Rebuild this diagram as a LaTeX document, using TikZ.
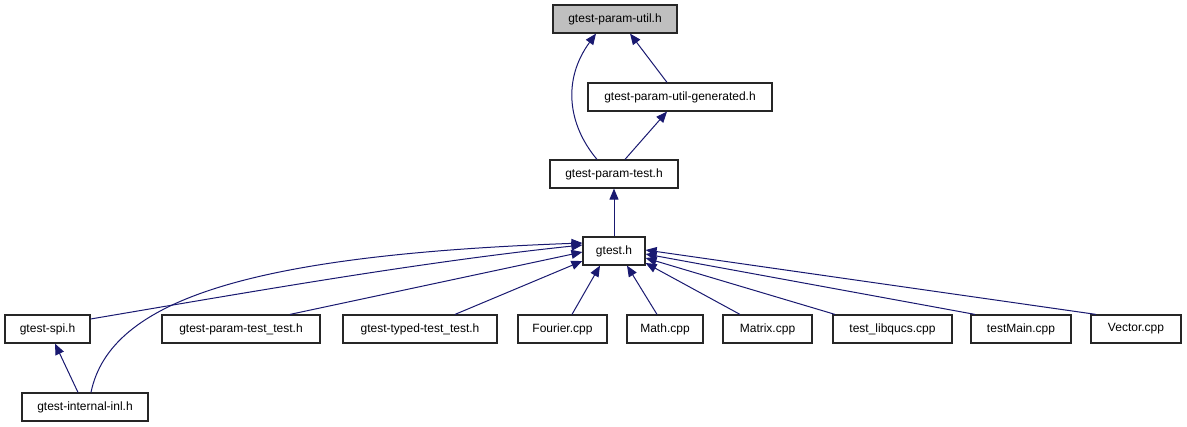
\documentclass[tikz,border=0pt]{standalone}
\usepackage{fontspec}
\setmainfont{Liberation Sans}
\usetikzlibrary{arrows.meta}
\definecolor{edgeblue}{HTML}{191970}
\definecolor{rootgray}{HTML}{BFBFBF}
\tikzset{
  box/.style={draw=black!85, line width=1.2pt, fill=white, minimum height=28pt, inner sep=0pt, font=\fontsize{12}{14}\selectfont},
  dep/.style={draw=edgeblue, line width=1pt, -{Triangle[length=11pt,width=9pt]}}
}
\begin{document}
\begin{tikzpicture}[x=1pt,y=-1pt]
\useasboundingbox (0,0) rectangle (1187,427);
\node[box, fill=rootgray, minimum width=124pt] (util) at (615,19) {gtest-param-util.h};
\node[box, minimum width=184pt] (gen) at (680,97) {gtest-param-util-generated.h};
\node[box, minimum width=128pt] (ptest) at (614,174) {gtest-param-test.h};
\node[box, minimum width=62pt] (gtest) at (614,251) {gtest.h};
\node[box, minimum width=85pt] (spi) at (47.5,329) {gtest-spi.h};
\node[box, minimum width=158pt] (ptt) at (241,329) {gtest-param-test\_test.h};
\node[box, minimum width=154pt] (ttt) at (420,329) {gtest-typed-test\_test.h};
\node[box, minimum width=89pt] (fourier) at (562.5,329) {Fourier.cpp};
\node[box, minimum width=76pt] (math) at (665,329) {Math.cpp};
\node[box, minimum width=89pt] (matrix) at (767.5,329) {Matrix.cpp};
\node[box, minimum width=119pt] (libqucs) at (892.5,329) {test\_libqucs.cpp};
\node[box, minimum width=100pt] (tmain) at (1021,329) {testMain.cpp};
\node[box, minimum width=90pt] (vector) at (1136,329) {Vector.cpp};
\node[box, minimum width=126pt] (inl) at (85,407) {gtest-internal-inl.h};

\draw[dep] ([xshift=-17pt]ptest.north) .. controls (568,125) and (562,80) .. ([xshift=-19pt]util.south);
\draw[dep] ([xshift=-13pt]gen.north) -- ([xshift=15pt]util.south);
\draw[dep] ([xshift=11pt]ptest.north) -- ([xshift=-13pt]gen.south);
\draw[dep] (gtest.north) -- (ptest.south);
\draw[dep] ([yshift=10pt]spi.east) .. controls (250,292) and (420,262) .. ([yshift=6pt]gtest.west);
\draw[dep] ([xshift=6pt]inl.north) .. controls (110,300) and (250,255) .. ([yshift=8pt]gtest.west);
\draw[dep] ([xshift=-7pt]inl.north) -- ([xshift=7.5pt]spi.south);
\draw[dep] ([xshift=49pt]ptt.north) -- ([yshift=-1pt]gtest.west);
\draw[dep] ([xshift=35pt]ttt.north) -- ([yshift=-10pt]gtest.west);
\draw[dep] ([xshift=9.5pt]fourier.north) -- ([xshift=-14pt]gtest.south);
\draw[dep] ([xshift=-8pt]math.north) -- ([xshift=13pt]gtest.south);
\draw[dep] ([xshift=-27.5pt]matrix.north) -- ([yshift=-12pt]gtest.east);
\draw[dep] ([xshift=-57.5pt]libqucs.north) -- ([yshift=-7pt]gtest.east);
\draw[dep] ([xshift=-46pt]tmain.north) -- ([yshift=-3pt]gtest.east);
\draw[dep] ([xshift=-40pt]vector.north) -- ([yshift=1pt]gtest.east);
\end{tikzpicture}
\end{document}
